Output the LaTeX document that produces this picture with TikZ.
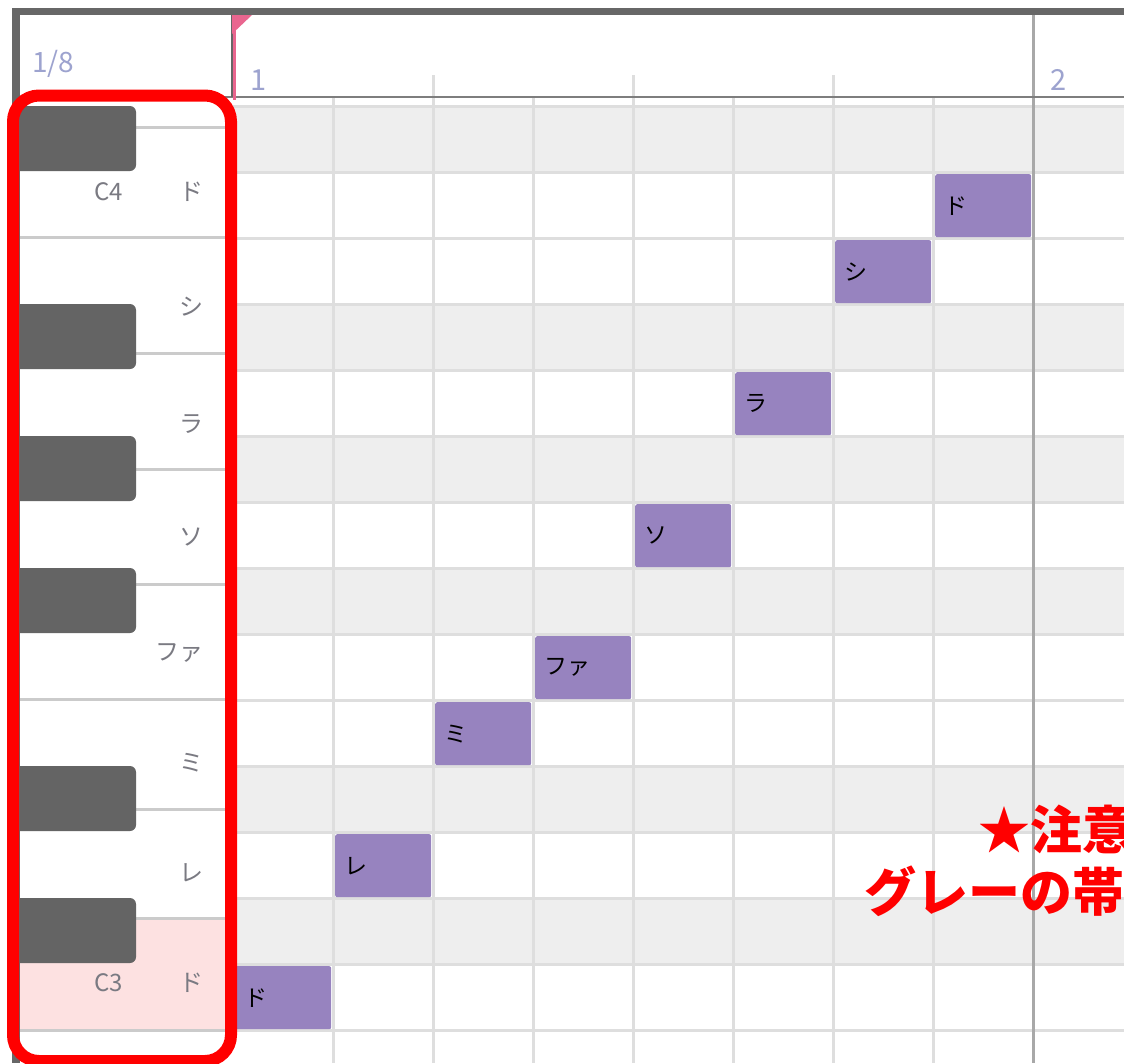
\documentclass[tikz,border=0pt]{standalone}
\usepackage{fontspec}
\setmainfont{Noto Sans CJK JP}
\usepackage{xcolor}

\definecolor{framegray}{HTML}{676767}
\definecolor{rowgray}{HTML}{EEEEEE}
\definecolor{gridgray}{HTML}{DEDEDE}
\definecolor{bargray}{HTML}{A8A8A8}
\definecolor{keydark}{HTML}{646464}
\definecolor{keyedge}{HTML}{CBCBCB}
\definecolor{keypink}{HTML}{FDE1E1}
\definecolor{notepurple}{HTML}{9783BF}
\definecolor{lblgray}{HTML}{7A7A82}
\definecolor{beatblue}{HTML}{9DA3CF}
\definecolor{playpink}{HTML}{E9668F}

\begin{document}
\begin{tikzpicture}
  [x=1pt,y=-1pt,
   gridline/.style={draw=gridgray,line width=3pt},
   keyline/.style={draw=keyedge,line width=3pt},
   blackkey/.style={fill=keydark,rounded corners=6pt},
   keylbl/.style={anchor=east,inner sep=0pt,text=lblgray,font=\fontsize{24}{24}\selectfont},
   beat/.style={anchor=west,inner sep=0pt,text=beatblue},
   notebox/.style={fill=notepurple,rounded corners=2pt,anchor=north west,
     minimum height=63pt,text width=78pt,inner xsep=9pt,inner ysep=0pt,
     align=left,text=black,font=\fontsize{23}{23}\selectfont},
   warn/.style={anchor=west,inner sep=0pt,text=red,font=\bfseries\fontsize{52}{52}\selectfont}]

  \useasboundingbox (0,0) rectangle (1124,1063);
  \fill[white] (0,0) rectangle (1124,1063);

  % frame and header
  \fill[framegray] (12,8) rectangle (1124,15);
  \fill[framegray] (12,8) rectangle (20,1063);
  \node[beat,font=\fontsize{28}{28}\selectfont] (step) at (32,64) {1/8};
  \node[beat,font=\fontsize{29}{29}\selectfont] (bar1) at (250,80) {1};
  \node[beat,font=\fontsize{29}{29}\selectfont] (bar2) at (1050,80) {2};

  % rows and grid
  \foreach \r in {0,3,5,7,10,12}
    \fill[rowgray] (233,106+66*\r) rectangle (1124,172+66*\r);
  \foreach \r in {0,...,14}
    \draw[gridline] (233,106+66*\r) -- (1124,106+66*\r);
  \foreach \c in {1,...,7}
    \draw[gridline] (233+100*\c,97) -- (233+100*\c,1063);
  \foreach \c in {2,4,6}
    \draw[gridline] (233+100*\c,75) -- (233+100*\c,97);
  \draw[draw=bargray,line width=3pt] (1033,15) -- (1033,1063);
  \draw[draw=framegray!85,line width=2.5pt] (20,97) -- (1124,97);
  \draw[draw=framegray,line width=2pt] (232,15) -- (232,97);

  % keyboard
  \fill[keypink] (20,918) rectangle (226,1030);
  \foreach \y in {237,699,1030}
    \draw[keyline] (20,\y) -- (226,\y);
  \foreach \y in {127,353,469,584,809,918}
    \draw[keyline] (136,\y) -- (226,\y);
  \begin{scope}
    \clip (20,97) rectangle (226,1063);
    \foreach \y in {106,304,436,568,766,898}
      \fill[blackkey] (8,\y) rectangle (136,\y+65);
  \end{scope}

  \node[keylbl] (c4) at (123,192) {C4};
  \node[keylbl] (c3) at (123,983) {C3};
  \foreach \y/\txt in {192/ド,307/シ,424/ラ,537/ソ,653/ファ,763/ミ,873/レ,983/ド}
    \node[keylbl] (k\y) at (204,\y) {\txt};

  % notes
  \foreach \c/\r/\txt in {0/13/ド,1/11/レ,2/9/ミ,3/8/ファ,4/6/ソ,5/4/ラ,6/2/シ,7/1/ド}
    \node[notebox] (n\c) at (235+100*\c,108+66*\r) {\txt};

  % playhead
  \fill[playpink] (232,15) -- (252,15) -- (232,34) -- cycle;
  \draw[draw=playpink,line width=3pt] (234,15) -- (234,100);

  % marks
  \draw[red,line width=12pt,rounded corners=26pt] (13,95.5) rectangle (231,1061);
  \node[warn] (w1) at (978,829) {★注意};
  \node[warn] (w2) at (864,891) {グレーの帯};
\end{tikzpicture}
\end{document}
